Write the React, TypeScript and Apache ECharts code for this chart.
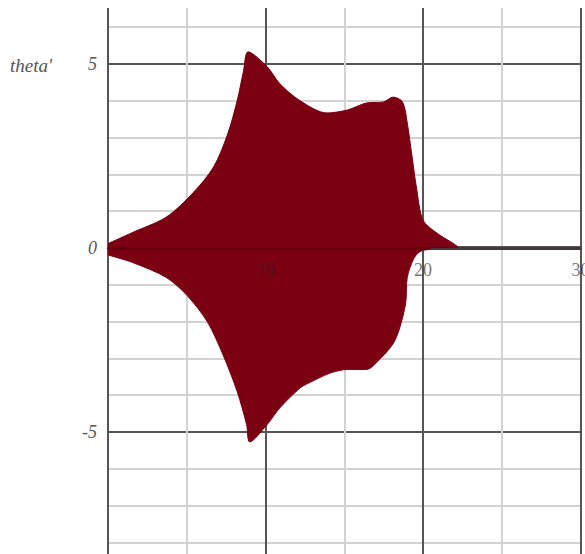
import React, { useEffect, useRef } from "react";
import * as echarts from "echarts";

// Envelope of theta' (upper and lower bounds of the filled oscillation)
const upperX = [0, 1.6, 3.7, 5.4, 6.7, 7.6, 8.2, 8.6, 8.9, 10.1, 10.9, 12.2, 13.9, 15.2, 16.4, 17.5, 18.1, 18.7, 19.0, 19.3, 19.6, 20.0, 20.9, 21.9, 22.2];
const upperY = [0.12, 0.43, 0.84, 1.5, 2.2, 3.1, 4.0, 4.8, 5.33, 4.93, 4.47, 4.0, 3.67, 3.75, 3.94, 3.97, 4.1, 3.97, 3.4, 2.5, 1.6, 0.76, 0.4, 0.13, 0.04];
const lowerX = [0, 1.6, 3.7, 5.0, 6.3, 7.3, 8.2, 8.8, 9.0, 10.1, 10.9, 12.2, 12.6, 14.1, 15.2, 16.4, 17.3, 18.1, 18.5, 18.9, 19.0, 19.4, 19.8, 20.5];
const lowerY = [-0.19, -0.4, -0.8, -1.28, -2.0, -2.9, -3.9, -4.8, -5.27, -4.8, -4.35, -3.8, -3.7, -3.4, -3.3, -3.3, -3.0, -2.6, -2.2, -1.5, -0.8, -0.3, -0.1, -0.03];

const yTickLabels = ["-5", "0", "5"];
const xTickValues = [10, 20, 30];
const yName = "theta'";

const FILL = "#7a0012";
const MAJOR = "#555555";
const MINOR = "#d2d2d2";
const LABEL_FONT = "'Liberation Serif', 'DejaVu Serif', serif";

export default function App() {
  const ref = useRef<HTMLDivElement>(null);
  useEffect(() => {
    if (!ref.current) return;
    const chart = echarts.init(ref.current, null, { renderer: "svg" });
    const upper = upperX.map((x, i) => [x, upperY[i]]);
    const lower = lowerX.map((x, i) => [x, lowerY[i]]);
    chart.setOption({
      animation: false,
      backgroundColor: "#ffffff",
      grid: {
        left: 108,
        right: 4.5,
        top: -120,
        bottom: -62,
        containLabel: false,
        outerBoundsMode: "none",
      },
      xAxis: [
        {
          // zero line, drawn above the fill
          type: "value",
          min: 0,
          max: 30,
          interval: 10,
          z: 10,
          axisLine: { show: true, onZero: true, lineStyle: { color: "rgba(50,0,10,0.35)", width: 3 } },
          axisTick: { show: false },
          splitLine: { show: false },
          axisLabel: { show: false },
        },
        {
          // grid lines, drawn below the fill
          type: "value",
          min: 0,
          max: 30,
          interval: 10,
          z: 0,
          axisLine: { show: false, onZero: false },
          axisTick: { show: false },
          axisLabel: { show: false },
          splitLine: { show: true, lineStyle: { color: MAJOR, width: 2 } },
          minorTick: { show: false, splitNumber: 2 },
          minorSplitLine: { show: true, lineStyle: { color: MINOR, width: 2 } },
        },
      ],
      yAxis: {
        type: "value",
        min: -10,
        max: 10,
        interval: 5,
        z: 0,
        axisLine: { show: true, onZero: true, lineStyle: { color: MAJOR, width: 2 } },
        axisTick: { show: false },
        axisLabel: {
          show: true,
          margin: 11,
          color: "#555",
          fontSize: 18,
          fontStyle: "italic",
          fontFamily: LABEL_FONT,
          formatter: (v: number) => (yTickLabels.includes(String(v)) ? String(v) : ""),
        },
        splitLine: { show: true, lineStyle: { color: MAJOR, width: 2 } },
        minorTick: { show: false, splitNumber: 5 },
        minorSplitLine: { show: true, lineStyle: { color: MINOR, width: 2 } },
      },
      series: [
        {
          type: "line",
          xAxisIndex: 0,
          yAxisIndex: 0,
          data: upper,
          showSymbol: false,
          symbol: "none",
          smooth: 0.3,
          lineStyle: { color: FILL, width: 1 },
          areaStyle: { color: FILL, opacity: 1, origin: 0 },
          z: 2,
          markLine: {
            silent: true,
            z: 1,
            symbol: "none",
            label: { show: false },
            lineStyle: { color: MAJOR, width: 4, type: "solid" },
            data: [{ yAxis: 0 }],
          },
        },
        {
          type: "line",
          xAxisIndex: 0,
          yAxisIndex: 0,
          data: lower,
          showSymbol: false,
          symbol: "none",
          smooth: 0.3,
          lineStyle: { color: FILL, width: 1 },
          areaStyle: { color: FILL, opacity: 1, origin: 0 },
          z: 2,
        },
        {
          // x tick labels, placed on the zero line
          type: "scatter",
          xAxisIndex: 0,
          yAxisIndex: 0,
          silent: true,
          symbolSize: 0,
          z: 12,
          data: xTickValues.map((v) => [v, 0]),
          itemStyle: { color: "rgba(0,0,0,0)" },
          label: {
            show: true,
            position: "bottom",
            distance: 13,
            color: "rgba(45,35,35,0.8)",
            fontSize: 18,
            fontFamily: LABEL_FONT,
            formatter: (p: any) => String(p.value[0]),
          },
        },
      ],
      graphic: [
        {
          type: "rect",
          z: 100,
          shape: { x: 0, y: 0, width: 585, height: 8 },
          style: { fill: "#ffffff" },
        },
        {
          type: "text",
          z: 100,
          left: 10,
          top: 56,
          style: {
            text: yName,
            fill: "#555",
            fontSize: 19,
            fontStyle: "italic",
            fontFamily: LABEL_FONT,
          },
        },
      ],
    });
    return () => chart.dispose();
  }, []);
  return (
    <div
      ref={ref}
      style={{ position: "fixed", left: 0, top: 0, width: 585, height: 554, background: "#fff" }}
    />
  );
}
